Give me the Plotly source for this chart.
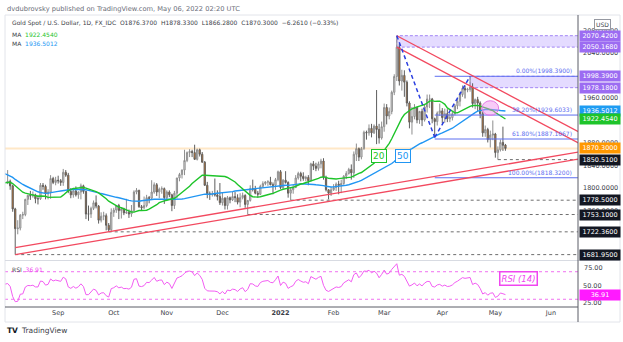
import numpy as np
import pandas as pd
import plotly.graph_objects as go
from plotly.subplots import make_subplots

# ---------------------------------------------------------------- data
# earlier daily closes, only used to seed the moving averages and the RSI
warmup_start, warmup_end = "2021-05-24", "2021-08-03"
warmup_close = [
    1881, 1898, 1897, 1895, 1903, 1905,
    1903, 1908, 1871, 1891, 1899, 1893, 1888, 1899, 1877, 1866, 1859, 1812,
    1774, 1764, 1783, 1778, 1779, 1776, 1781, 1780, 1761, 1770,
    1776, 1787, 1791, 1797, 1803, 1803, 1808, 1806, 1808, 1825, 1829, 1812,
    1812, 1810, 1803, 1806, 1802, 1798, 1799, 1806, 1829, 1814,
    1813, 1810,
]

# daily bars, 4 Aug 2021 .. 6 May 2022 (weekdays)
bar_start, bar_end = "2021-08-04", "2022-05-06"
open_ = [
    1810, 1812, 1804, 1763, 1728, 1729, 1752, 1753, 1780, 1787, 1786, 1788, 1781, 1781, 1805, 1803, 1790, 1793, 1817, 1810,
    1814, 1813, 1810, 1828, 1823, 1794, 1788, 1795, 1788, 1793, 1804, 1794, 1754, 1754, 1764, 1774, 1768, 1743, 1750, 1751, 1734, 1726,
    1757, 1761, 1769, 1760, 1763, 1756, 1757, 1754, 1760, 1793, 1796, 1767, 1765, 1769, 1783, 1782, 1793, 1806, 1793, 1798, 1799,
    1783, 1793, 1788, 1769, 1791, 1818, 1824, 1832, 1849, 1863, 1865, 1863, 1851, 1868, 1860, 1846, 1805, 1790, 1789, 1790, 1788, 1785,
    1774, 1782, 1769, 1783, 1779, 1785, 1783, 1775, 1783, 1787, 1771, 1778, 1799, 1798, 1791, 1789, 1803, 1808, 1811, 1811, 1806, 1805, 1815,
    1829, 1801, 1814, 1810, 1791, 1797, 1801, 1818, 1826, 1821, 1817, 1819, 1813, 1843, 1839, 1835, 1843, 1848, 1819, 1797, 1791,
    1797, 1801, 1807, 1805, 1808, 1821, 1826, 1833, 1827, 1860, 1870, 1855, 1870, 1899, 1898, 1906, 1898, 1910, 1904, 1889,
    1909, 1943, 1928, 1936, 1970, 1998, 2050, 1990, 2000, 1988, 1951, 1917, 1927, 1943, 1921, 1936, 1921, 1944, 1958, 1958, 1923, 1918, 1933,
    1937, 1925, 1932, 1923, 1925, 1932, 1946, 1954, 1966, 1977, 1974, 1975, 1979, 1950, 1957, 1951, 1932, 1898, 1904, 1886, 1894,
    1896, 1863, 1868, 1881, 1876.37,
]
high = [
    1832, 1815, 1806, 1765, 1743, 1754, 1758, 1781, 1788, 1795, 1794, 1790, 1787, 1809, 1809, 1806, 1798, 1823, 1820, 1820,
    1822, 1816, 1834, 1832, 1827, 1800, 1800, 1803, 1794, 1808, 1806, 1795, 1769, 1767, 1778, 1787, 1770, 1757, 1758, 1755, 1738, 1764,
    1765, 1770, 1772, 1765, 1765, 1781, 1762, 1770, 1796, 1800, 1797, 1770, 1785, 1788, 1786, 1814, 1810, 1809, 1801, 1803, 1801,
    1796, 1796, 1790, 1795, 1818, 1827, 1833, 1868, 1865, 1869, 1868, 1877, 1870, 1870, 1864, 1848, 1811, 1794, 1795, 1817, 1796, 1809,
    1792, 1784, 1786, 1785, 1793, 1793, 1789, 1791, 1792, 1789, 1779, 1805, 1815, 1804, 1795, 1806, 1812, 1812, 1814, 1820, 1810, 1818, 1831,
    1832, 1816, 1830, 1812, 1800, 1806, 1823, 1829, 1829, 1828, 1822, 1823, 1845, 1848, 1845, 1847, 1852, 1853, 1822, 1798, 1802,
    1807, 1810, 1813, 1815, 1823, 1830, 1836, 1842, 1865, 1879, 1872, 1873, 1902, 1902, 1913, 1914, 1913, 1974, 1914, 1918,
    1950, 1949, 1943, 1973, 2002, 2070.42, 2056, 2010, 2009, 1991, 1954, 1944, 1949, 1944, 1937, 1941, 1949, 1966, 1966, 1960, 1925, 1936, 1950,
    1942, 1941, 1940, 1933, 1935, 1949, 1958, 1970, 1982, 1982, 1978, 1998.39, 1986, 1959, 1962, 1954, 1936, 1911, 1907, 1902, 1920,
    1898, 1874, 1886, 1909, 1878.33,
]
low = [
    1807, 1797, 1758, 1681.95, 1718, 1725, 1745, 1750, 1770, 1779, 1783, 1773, 1771, 1779, 1797, 1780, 1780, 1781, 1807, 1805,
    1808, 1804, 1804, 1820, 1791, 1782, 1783, 1785, 1781, 1780, 1790, 1745, 1742, 1747, 1761, 1764, 1737, 1739, 1743, 1725, 1722.36, 1724,
    1749, 1756, 1745, 1746, 1752, 1754, 1747, 1749, 1757, 1789, 1765, 1760, 1763, 1766, 1773, 1780, 1790, 1786, 1782, 1790, 1772,
    1778, 1784, 1759, 1763, 1782, 1812, 1817, 1823, 1846, 1855, 1855, 1850, 1849, 1856, 1845, 1804, 1782, 1779, 1785, 1785, 1778, 1770,
    1769, 1762, 1762, 1773, 1777, 1775, 1771, 1766, 1780, 1765, 1753.10, 1776, 1794, 1789, 1783, 1788, 1801, 1805, 1804, 1805, 1789, 1797, 1812,
    1798, 1798, 1808, 1783, 1778.50, 1790, 1800, 1815, 1812, 1813, 1812, 1805, 1812, 1832, 1830, 1831, 1835, 1815, 1794, 1780, 1786,
    1795, 1795, 1789, 1791, 1806, 1816, 1824, 1815, 1818, 1848, 1848, 1851, 1868, 1886, 1893, 1890, 1896, 1878, 1879, 1886,
    1900, 1913, 1922, 1931, 1965, 1990, 1982, 1973, 1962, 1945, 1906, 1895, 1922, 1915, 1914, 1910, 1918, 1934, 1942, 1915, 1890, 1911, 1928,
    1915, 1916, 1917, 1917, 1920, 1929, 1940, 1945, 1962, 1959, 1970, 1971, 1943, 1940, 1936, 1924, 1891, 1891, 1881, 1872, 1885,
    1854, 1850.51, 1865, 1866, 1866.28,
]
close = [
    1812, 1804, 1763, 1728, 1729, 1752, 1753, 1780, 1787, 1786, 1788, 1781, 1781, 1805, 1803, 1790, 1793, 1817, 1810, 1814,
    1813, 1810, 1828, 1823, 1794, 1788, 1795, 1788, 1793, 1804, 1794, 1754, 1754, 1764, 1774, 1768, 1743, 1750, 1751, 1734, 1726, 1757,
    1761, 1769, 1760, 1763, 1756, 1757, 1754, 1760, 1793, 1796, 1767, 1765, 1769, 1783, 1782, 1793, 1806, 1793, 1798, 1799, 1783,
    1793, 1788, 1769, 1791, 1818, 1824, 1832, 1849, 1863, 1865, 1863, 1851, 1868, 1860, 1846, 1805, 1790, 1789, 1790, 1788, 1785, 1774,
    1782, 1769, 1783, 1779, 1785, 1783, 1775, 1783, 1787, 1771, 1778, 1799, 1798, 1791, 1789, 1803, 1808, 1811, 1811, 1806, 1805, 1815, 1829,
    1801, 1814, 1810, 1791, 1797, 1801, 1818, 1826, 1821, 1817, 1819, 1813, 1843, 1839, 1835, 1843, 1848, 1819, 1797, 1791, 1797,
    1801, 1807, 1805, 1808, 1821, 1826, 1833, 1827, 1860, 1870, 1855, 1870, 1899, 1898, 1906, 1898, 1910, 1904, 1889, 1909,
    1943, 1928, 1936, 1970, 1998, 2050, 1990, 2000, 1988, 1951, 1917, 1927, 1943, 1921, 1936, 1921, 1944, 1958, 1958, 1923, 1918, 1933, 1937,
    1925, 1932, 1923, 1925, 1932, 1946, 1954, 1966, 1977, 1974, 1975, 1979, 1950, 1957, 1951, 1932, 1898, 1904, 1886, 1894, 1896,
    1863, 1868, 1881, 1876, 1870.30,
]

# readouts shown in the legend / on the price scale
last_price = 1870.30
ma20_last, ma50_last = 1922.4540, 1936.5012
rsi_last = 36.91

# Fibonacci retracement (anchored 29 Mar 2022)
fib_pct = ["0.00%", "38.20%", "61.80%", "100.00%"]
fib_price = [1998.39, 1929.6033, 1887.1067, 1818.32]
fib_start = "2022-03-29"

# resistance zones: (start, bottom, top)
zone_start = ["2022-03-08", "2022-04-18"]
zone_low = [2050.168, 1978.18]
zone_high = [2070.42, 1998.39]

# dashed horizontal supports
support_price = [1850.51, 1778.50, 1753.10, 1722.36, 1681.95]
support_start = ["2022-05-03", "2022-01-07", "2021-12-15", "2021-09-29", "2021-08-09"]

# swing path (high -> low -> high)
swing_date = ["2022-03-08", "2022-03-29", "2022-04-18"]
swing_price = [2070.42, 1890.0, 1998.39]

# month labels on the time scale
month_ticks = ["2021-09-01", "2021-10-01", "2021-11-01", "2021-12-01", "2022-01-03",
               "2022-02-01", "2022-03-01", "2022-04-01", "2022-05-02", "2022-06-01"]
month_text = ["Sep", "Oct", "Nov", "Dec", "<b>2022</b>", "Feb", "Mar", "Apr", "May", "Jun"]

# scale values left uncovered by the coloured level tags
price_ticks = [1760, 1800, 1840, 1880, 1960, 2040, 2080]
rsi_ticks = [25, 50]
rsi_top_tick = 75

# ---------------------------------------------------------------- derived
dates = pd.bdate_range(bar_start, bar_end)
wdates = pd.bdate_range(warmup_start, warmup_end)
assert len(dates) == len(open_) == len(high) == len(low) == len(close)
assert len(wdates) == len(warmup_close)

all_dates = wdates.append(dates)
all_close = pd.Series(list(warmup_close) + list(close), index=all_dates, dtype=float)
ma20 = all_close.rolling(20).mean()
ma50 = all_close.rolling(50).mean()


def wilder_rsi(s, period=14):
    d = s.diff()
    up = d.clip(lower=0).ewm(alpha=1 / period, adjust=False).mean()
    dn = (-d.clip(upper=0)).ewm(alpha=1 / period, adjust=False).mean()
    return 100 - 100 / (1 + up / dn)


rsi = wilder_rsi(all_close)

# ---------------------------------------------------------------- geometry
W, H = 623, 342
M_L, M_R, M_T, M_B = 5, 45, 15, 35
PLOT_H = H - M_T - M_B
PANE_SPLIT = 260.5                       # pixel row between price and RSI panes
rsi_frac = (H - M_B - PANE_SPLIT) / PLOT_H

X_RANGE = ["2021-08-02 23:00", "2022-06-15 17:00"]
X_FAR = "2022-06-30"
Y_RANGE = [1671.5, 2107.15]
RSI_RANGE = [18.75, 86.3]

FONT = "DejaVu Sans, Liberation Sans, sans-serif"
TXT = "#3b3e48"
GREEN, BLUE, ORANGE = "#1ec42a", "#2196f3", "#ff9800"
PURPLE, MAGENTA, RED = "#9c6cf2", "#f046f0", "#f2495f"
FIBC = "#5d6ef0"


def px_x(px):
    return (px - M_L) / (W - M_L - M_R)


def px_y(py):
    return (H - M_B - py) / PLOT_H


def rsi_paper(v):
    """paper y of an RSI value inside the lower pane"""
    return rsi_frac * (v - RSI_RANGE[0]) / (RSI_RANGE[1] - RSI_RANGE[0])


def bars(d0, d1):
    return int(np.busday_count(pd.Timestamp(d0).date(), pd.Timestamp(d1).date()))


def extended(d0, p0, d1, p1, d_end=X_FAR):
    slope = (p1 - p0) / bars(d0, d1)
    return p0 + slope * bars(d0, d_end)


fig = make_subplots(rows=2, cols=1, shared_xaxes=True, vertical_spacing=0,
                    row_heights=[1 - rsi_frac, rsi_frac])

fig.add_trace(go.Candlestick(
    x=dates, open=open_, high=high, low=low, close=close,
    increasing=dict(line=dict(color="#8e8e8e", width=1), fillcolor="#e4e4e4"),
    decreasing=dict(line=dict(color="#5e5e5e", width=1), fillcolor="#ee7b12"),
    whiskerwidth=0, hoverinfo="skip"), row=1, col=1)

fig.add_trace(go.Scatter(x=all_dates, y=ma50, mode="lines",
                         line=dict(color=BLUE, width=1.4), hoverinfo="skip"), row=1, col=1)
fig.add_trace(go.Scatter(x=all_dates, y=ma20, mode="lines",
                         line=dict(color=GREEN, width=1.4), hoverinfo="skip"), row=1, col=1)

fig.add_trace(go.Scatter(x=all_dates, y=rsi, mode="lines",
                         line=dict(color="#f25cf2", width=1), hoverinfo="skip"), row=2, col=1)

shapes = []

# current price line
shapes.append(dict(type="line", xref="paper", yref="y", x0=0, x1=1, y0=last_price, y1=last_price,
                   line=dict(color="rgba(255,152,0,0.22)", width=2), layer="below"))

# resistance zones
for d0, lo, hi in zip(zone_start, zone_low, zone_high):
    shapes.append(dict(type="rect", xref="x", yref="y", x0=d0, x1=X_FAR, y0=lo, y1=hi,
                       fillcolor="rgba(185,160,255,0.38)",
                       line=dict(color="#a184f5", width=1, dash="3px,2px"), layer="below"))

# dashed supports
for p, d0 in zip(support_price, support_start):
    shapes.append(dict(type="line", xref="x", yref="y", x0=d0, x1=X_FAR, y0=p, y1=p,
                       line=dict(color="#6e6e6e", width=1, dash="3px,3px")))

# Fibonacci levels
for p in fib_price:
    shapes.append(dict(type="line", xref="x", yref="y", x0=fib_start, x1=X_FAR, y0=p, y1=p,
                       line=dict(color=FIBC, width=1)))

# descending channel from the March high
a0, a1 = ("2022-03-08", 2070.42), ("2022-04-18", 1998.39)
a_end = extended(a0[0], a0[1], a1[0], a1[1])
shapes.append(dict(type="line", xref="x", yref="y", x0=a0[0], y0=a0[1], x1=X_FAR, y1=a_end,
                   line=dict(color=RED, width=1.3)))
offset = a0[1] - 2050.168
shapes.append(dict(type="line", xref="x", yref="y", x0=a0[0], y0=a0[1] - offset, x1=X_FAR,
                   y1=a_end - offset, line=dict(color=RED, width=1.3)))

# rising support from the August low
c0, c1 = ("2021-08-09", 1681.95), ("2021-12-15", 1753.10)
c_end = extended(c0[0], c0[1], c1[0], c1[1])
shapes.append(dict(type="line", xref="x", yref="y", x0=c0[0], y0=c0[1], x1=X_FAR, y1=c_end,
                   line=dict(color=RED, width=1.3)))
shapes.append(dict(type="line", xref="x", yref="y", x0=c0[0], y0=c0[1] + 12.5, x1=X_FAR,
                   y1=c_end + 12.5, line=dict(color=RED, width=1.3)))

# swing path
for i in range(len(swing_date) - 1):
    shapes.append(dict(type="line", xref="x", yref="y",
                       x0=swing_date[i], y0=swing_price[i], x1=swing_date[i + 1], y1=swing_price[i + 1],
                       line=dict(color="#2b3fe0", width=1.5, dash="4px,3px")))

# MA crossover marker
shapes.append(dict(type="circle", xref="x", yref="y", x0="2022-04-22 17:00", x1="2022-05-03 07:00",
                   y0=1929, y1=1955, fillcolor="rgba(240,140,240,0.45)",
                   line=dict(color="#e67ae6", width=1)))

# RSI bands
for lvl in (70, 30):
    shapes.append(dict(type="line", xref="paper", yref="y2", x0=0, x1=1, y0=lvl, y1=lvl,
                       line=dict(color="#f070f0", width=1, dash="3px,3px")))

# frame, scale borders, pane separator
shapes.append(dict(type="rect", xref="paper", yref="paper", x0=0, x1=px_x(620), y0=px_y(322), y1=1,
                   line=dict(color="#e2e4ea", width=1)))
shapes.append(dict(type="line", xref="paper", yref="paper", x0=0, x1=px_x(620), y0=rsi_frac, y1=rsi_frac,
                   line=dict(color="#d8dbe2", width=1)))
shapes.append(dict(type="line", xref="paper", yref="paper", x0=1, x1=1, y0=px_y(322), y1=1,
                   line=dict(color="#5a5d66", width=1)))
shapes.append(dict(type="line", xref="paper", yref="paper", x0=0, x1=1, y0=0, y1=0,
                   line=dict(color="#5a5d66", width=1)))

ann = []


def text(px, py, s, size=6, color=TXT, anchor="left", **kw):
    ann.append(dict(xref="paper", yref="paper", x=px_x(px), y=px_y(py), text=s, showarrow=False,
                    xanchor=anchor, yanchor="middle", font=dict(family=FONT, size=size, color=color), **kw))


text(5, 9, "dvdubrovsky published on TradingView.com, May 06, 2022 02:20 UTC", size=6.7, color="#6a6d78")
text(10, 23, "Gold Spot / U.S. Dollar, 1D, FX_IDC&nbsp;&nbsp;O1876.3700&nbsp;&nbsp;H1878.3300&nbsp;&nbsp;"
             "L1866.2800&nbsp;&nbsp;C1870.3000&nbsp;&nbsp;\u22126.2610 (\u22120.33%)", size=6)
text(10, 34, f"MA&nbsp;&nbsp;<span style='color:{GREEN}'>{ma20_last:.4f}</span>", size=6)
text(10, 43.5, f"MA&nbsp;&nbsp;<span style='color:{BLUE}'>{ma50_last:.4f}</span>", size=6)
text(10, 269, f"RSI&nbsp;&nbsp;<span style='color:{MAGENTA}'>{rsi_last:.2f}</span>", size=6)
text(602, 24, "USD", size=6, anchor="center", bgcolor="white", bordercolor="#9598a1",
     borderwidth=1, borderpad=1)
text(5, 331, "<b>TV</b>", size=7.5, color="#131722")
text(19, 331, "TradingView", size=7.5, color="#3b3e48")

# top RSI scale value (placed directly, next to the pane edge)
ann.append(dict(xref="paper", yref="paper", x=1, y=rsi_paper(rsi_top_tick), xanchor="left",
                yanchor="middle", xshift=4, text=f"{rsi_top_tick:.2f}", showarrow=False,
                font=dict(family=FONT, size=6.5, color=TXT)))

# MA badges
for lbl, col, d in (("20", GREEN, "2022-02-25"), ("50", BLUE, "2022-03-10 12:00")):
    ann.append(dict(xref="x", yref="y", x=d, y=1857, text=lbl, showarrow=False,
                    font=dict(family=FONT, size=9, color=col), bgcolor="white",
                    bordercolor=col, borderwidth=1, borderpad=1))

# RSI badge
ann.append(dict(xref="paper", yref="paper", x=px_x(538), y=px_y(285.5), text="<i>RSI (14)</i>",
                showarrow=False, font=dict(family=FONT, size=8.5, color=MAGENTA), bgcolor="white",
                bordercolor=MAGENTA, borderwidth=1.5, borderpad=1))

# Fibonacci level captions
for pct, p in zip(fib_pct, fib_price):
    ann.append(dict(xref="paper", yref="y", x=px_x(574), y=p, yanchor="bottom", xanchor="right",
                    text=f"{pct}({p:.4f})", showarrow=False,
                    font=dict(family=FONT, size=6, color=FIBC)))

# price-scale tags
tags = [
    (2070.42, "2070.4200", PURPLE, "y"), (2050.168, "2050.1680", PURPLE, "y"),
    (1998.39, "1998.3900", PURPLE, "y"), (1978.18, "1978.1800", PURPLE, "y"),
    (ma50_last, f"{ma50_last:.4f}", "#1e9cf2", "y"), (ma20_last, f"{ma20_last:.4f}", GREEN, "y"),
    (last_price, f"{last_price:.4f}", ORANGE, "y"),
]
tags += [(p, f"{p:.4f}", "#131722", "y") for p in support_price]
tags += [(rsi_last, f"{rsi_last:.2f}", "#ff1aff", "y2")]
for v, s, col, yr in tags:
    ann.append(dict(xref="paper", yref=yr, x=1, y=v, xanchor="left", yanchor="middle", xshift=1,
                    text=s, showarrow=False, bgcolor=col, width=39, height=9, borderpad=0.5,
                    font=dict(family=FONT, size=6.5, color="white")))

fig.update_layout(
    width=W, height=H, margin=dict(l=M_L, r=M_R, t=M_T, b=M_B),
    paper_bgcolor="white", plot_bgcolor="white", showlegend=False, hovermode=False,
    shapes=shapes, annotations=ann, font=dict(family=FONT, size=6.5, color=TXT),
)
fig.update_xaxes(range=X_RANGE, rangebreaks=[dict(bounds=["sat", "mon"])], showgrid=False,
                 zeroline=False, showline=False, ticks="", rangeslider_visible=False)
fig.update_xaxes(showticklabels=False, row=1, col=1)
fig.update_xaxes(tickvals=month_ticks, ticktext=month_text, tickfont=dict(size=6.5, color=TXT),
                 row=2, col=1)
fig.update_yaxes(side="right", showgrid=False, zeroline=False, showline=False, ticks="",
                 ticklabelstandoff=4, tickfont=dict(size=6.5, color=TXT))
fig.update_yaxes(range=Y_RANGE, tickvals=price_ticks, ticktext=[f"{v:.4f}" for v in price_ticks],
                 row=1, col=1)
fig.update_yaxes(range=RSI_RANGE, tickmode="array", tickvals=rsi_ticks,
                 ticktext=[f"{v:.2f}" for v in rsi_ticks], row=2, col=1)

fig.write_html("out.html")
